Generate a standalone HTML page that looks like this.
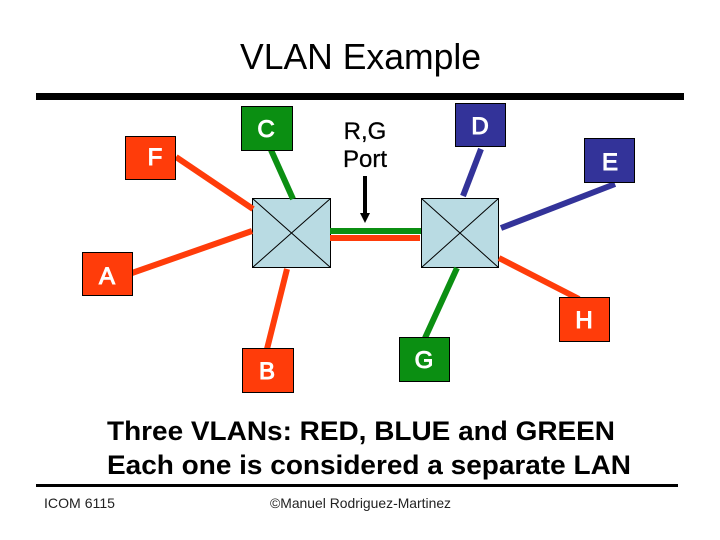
<!DOCTYPE html>
<html>
<head>
<meta charset="utf-8">
<style>
html,body{margin:0;padding:0;background:#fff;width:720px;height:540px;overflow:hidden}
svg{display:block}
text{font-family:"Liberation Sans",sans-serif}
</style>
</head>
<body>
<svg width="720" height="540" viewBox="0 0 720 540" xmlns="http://www.w3.org/2000/svg">
<rect width="720" height="540" fill="#fff"/>
<text x="240" y="69" font-size="36" textLength="241" lengthAdjust="spacingAndGlyphs" fill="#000">VLAN Example</text>
<rect x="36" y="93" width="648" height="7" fill="#000"/>

<!-- switches -->
<g fill="#b9dbe3" stroke="#000" stroke-width="1">
<rect x="252.5" y="198.5" width="78" height="69"/>
<rect x="421.5" y="198.5" width="77" height="69"/>
</g>
<g stroke="#000" stroke-width="1">
<path d="M252.5 198.5L330.5 267.5M330.5 198.5L252.5 267.5"/>
<path d="M421.5 198.5L498.5 267.5M498.5 198.5L421.5 267.5"/>
</g>

<!-- links -->
<g stroke-width="6" fill="none">
<line x1="176" y1="157" x2="253" y2="209" stroke="#ff3c0a"/>
<line x1="132" y1="273" x2="252" y2="231" stroke="#ff3c0a"/>
<line x1="287" y1="269" x2="267" y2="349" stroke="#ff3c0a"/>
<line x1="330" y1="238" x2="420" y2="238" stroke="#ff3c0a"/>
<line x1="499" y1="258" x2="579" y2="299" stroke="#ff3c0a"/>
<line x1="271" y1="150" x2="293" y2="199" stroke="#0b8f12"/>
<line x1="330" y1="231" x2="421" y2="231" stroke="#0b8f12"/>
<line x1="457" y1="268" x2="425" y2="338" stroke="#0b8f12"/>
<line x1="481" y1="149" x2="463" y2="196" stroke="#333399"/>
<line x1="501" y1="228" x2="615" y2="184" stroke="#333399"/>
</g>

<!-- arrow -->
<line x1="365" y1="176" x2="365" y2="215" stroke="#000" stroke-width="4"/>
<polygon points="360,213 370,213 365,223" fill="#000"/>

<!-- nodes -->
<g stroke="#000" stroke-width="1">
<rect x="125.5" y="136.5" width="50" height="43" fill="#ff3c0a"/>
<rect x="82.5" y="252.5" width="50" height="43" fill="#ff3c0a"/>
<rect x="242.5" y="348.5" width="51" height="44" fill="#ff3c0a"/>
<rect x="559.5" y="297.5" width="50" height="44" fill="#ff3c0a"/>
<rect x="241.5" y="106.5" width="51" height="44" fill="#0b8f12"/>
<rect x="399.5" y="337.5" width="50" height="44" fill="#0b8f12"/>
<rect x="455.5" y="103.5" width="50" height="43" fill="#333399"/>
<rect x="584.5" y="138.5" width="50" height="44" fill="#333399"/>
</g>
<g font-size="24" fill="#fff" text-anchor="middle" stroke="#fff" stroke-width="1">
<text x="155" y="165">F</text>
<text x="107" y="284">A</text>
<text x="267" y="379">B</text>
<text x="584" y="328">H</text>
<text x="266" y="137">C</text>
<text x="424" y="368">G</text>
<text x="480" y="134">D</text>
<text x="610" y="170">E</text>
</g>

<text x="365" y="139" font-size="24" text-anchor="middle" fill="#000" stroke="#000" stroke-width="0.3">R,G</text>
<text x="365" y="167" font-size="24" text-anchor="middle" fill="#000" stroke="#000" stroke-width="0.3">Port</text>

<text x="107" y="440" font-size="27" font-weight="bold" textLength="508" lengthAdjust="spacingAndGlyphs" fill="#000">Three VLANs: RED, BLUE and GREEN</text>
<text x="107" y="474" font-size="27" font-weight="bold" textLength="524" lengthAdjust="spacingAndGlyphs" fill="#000">Each one is considered a separate LAN</text>

<rect x="36" y="484" width="642" height="3" fill="#000"/>
<text x="44" y="508" font-size="14" textLength="71" lengthAdjust="spacingAndGlyphs" fill="#222">ICOM 6115</text>
<text x="270" y="508" font-size="14" textLength="181" lengthAdjust="spacingAndGlyphs" fill="#222">©Manuel Rodriguez-Martinez</text>
</svg>
</body>
</html>
